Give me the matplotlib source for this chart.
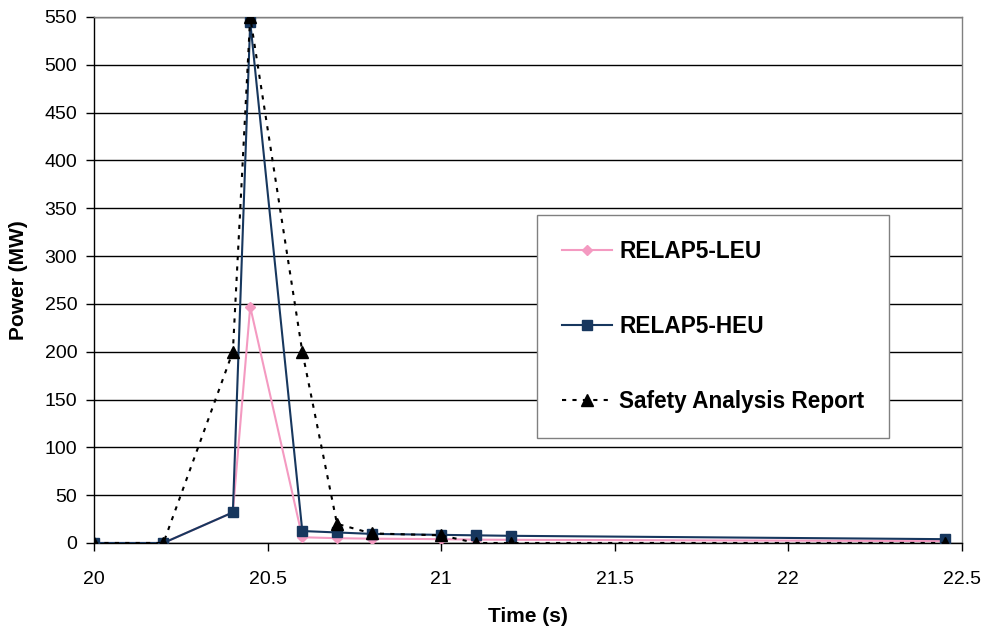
import matplotlib
matplotlib.use('Agg')
import matplotlib.pyplot as plt

plt.rcParams['font.family'] = ['Liberation Sans', 'DejaVu Sans']

# time points (s)
time = [20.0, 20.2, 20.4, 20.45, 20.6, 20.7, 20.8, 21.0, 21.1, 21.2, 22.45]

# power (MW)
leu = [0, 0, 32, 247, 6, 5, 4.5, 4, 3.5, 3.3, 2]
heu = [0, 0, 32, 545, 12.5, 11, 9.5, 8.5, 8, 7.5, 4]
sar = [0, 0, 200, 550, 200, 20, 10, 8, 0, 0, 0]

xticks = [20, 20.5, 21, 21.5, 22, 22.5]
xlabels = ['20', '20.5', '21', '21.5', '22', '22.5']
yticks = list(range(0, 551, 50))

fig = plt.figure(figsize=(9.83, 6.27), dpi=100)
ax = fig.add_axes([0.0956, 0.134, 0.883, 0.839])

ax.plot(time, leu, color='#F49AC1', lw=1.5, marker='D', ms=5.5,
        label='RELAP5-LEU', zorder=3)
ax.plot(time, heu, color='#17375E', lw=1.5, marker='s', ms=7.5,
        label='RELAP5-HEU', zorder=4)
ax.plot(time, sar, color='black', lw=1.5, ls=(0, (2, 3)), marker='^', ms=8,
        label='Safety Analysis Report', zorder=5)

ax.set_xlim(20, 22.5)
ax.set_ylim(0, 550)
ax.set_xticks(xticks)
ax.set_xticklabels(xlabels)
ax.set_yticks(yticks)
ax.yaxis.grid(True, color='black', lw=1.0)
ax.set_axisbelow(True)

ax.tick_params(axis='both', labelsize=14, direction='out', length=6, width=1)
ax.tick_params(axis='x', pad=14)
ax.tick_params(axis='y', pad=6)
for s in ax.spines.values():
    s.set_color('black')
    s.set_linewidth(1.0)
ax.spines['top'].set_color('#808080')
ax.spines['right'].set_color('#808080')

ax.set_xlabel('Time (s)', fontsize=15, fontweight='bold', labelpad=14)
ax.set_ylabel('Power (MW)', fontsize=15, fontweight='bold', labelpad=12)

leg = ax.legend(loc='upper left', bbox_to_anchor=(0.510, 0.6236),
                prop={'size': 16.3, 'weight': 'bold'}, frameon=True,
                fancybox=False, edgecolor='#808080', framealpha=1,
                handlelength=2.25, handletextpad=0.3, labelspacing=2.3,
                borderpad=1.1, borderaxespad=0)
leg.get_frame().set_linewidth(1.0)

plt.savefig('out.png', dpi=100)
